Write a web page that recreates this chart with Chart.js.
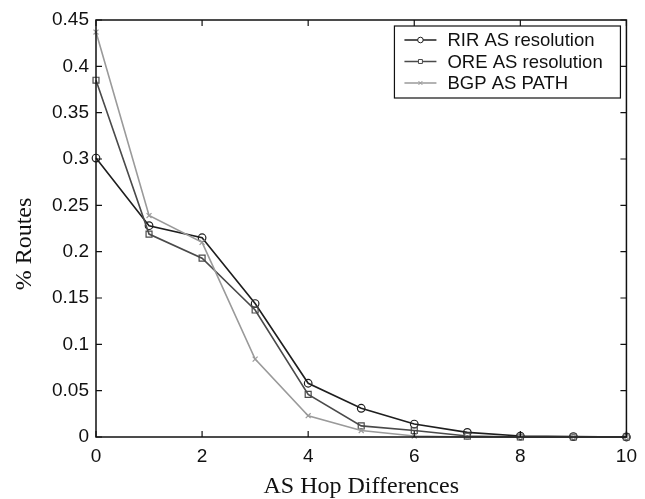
<!DOCTYPE html>
<html>
<head>
<meta charset="utf-8">
<script src="https://cdn.jsdelivr.net/npm/chart.js@4"></script>
<style>
  html, body { margin: 0; padding: 0; background: #fff; }
  #wrap { width: 645px; height: 499px; }
</style>
</head>
<body>
<div id="wrap"><canvas id="hopChart"></canvas></div>
<script>
// AS hop differences (x) and fraction of routes per method
const hops = [0, 1, 2, 3, 4, 5, 6, 7, 8, 9, 10];
const rirValues = [0.301, 0.228, 0.215, 0.144, 0.058, 0.031, 0.014, 0.005, 0.001, 0.0005, 0.0];
const oreValues = [0.385, 0.219, 0.193, 0.137, 0.046, 0.012, 0.007, 0.001, 0.0, 0.0, 0.0];
const bgpValues = [0.437, 0.239, 0.210, 0.084, 0.023, 0.007, 0.001, 0.0, 0.0, 0.0, 0.0];
const seriesNames = ["RIR AS resolution", "ORE AS resolution", "BGP AS PATH"];
const xTicks = [0, 2, 4, 6, 8, 10];
const yTicks = [0, 0.05, 0.1, 0.15, 0.2, 0.25, 0.3, 0.35, 0.4, 0.45];
const yTitle = "% Routes";

const toPoints = vals => vals.map((v, i) => ({ x: hops[i], y: v }));

const styles = [
  { color: "#1e1e1e", pointStyle: "circle", radius: 3.8 },
  { color: "#4a4a4a", pointStyle: "rect", radius: 4.2 },
  { color: "#9a9a9a", pointStyle: "crossRot", radius: 3.5 }
];

const sans = "'Liberation Sans', Arial, sans-serif";
const serif = "'Liberation Serif', 'Times New Roman', serif";

// box around the plot + inward ticks on all four sides, y title, legend
const frame = {
  id: "frame",
  afterDatasetsDraw(chart) {
    const { ctx, chartArea: a, scales } = chart;
    ctx.save();
    ctx.strokeStyle = "#111";
    ctx.lineWidth = 1.5;
    ctx.strokeRect(a.left, a.top, a.right - a.left, a.bottom - a.top);
    ctx.lineWidth = 1.2;
    ctx.beginPath();
    xTicks.forEach(t => {
      const px = scales.x.getPixelForValue(t);
      ctx.moveTo(px, a.bottom); ctx.lineTo(px, a.bottom - 6);
      ctx.moveTo(px, a.top); ctx.lineTo(px, a.top + 6);
    });
    yTicks.forEach(t => {
      const py = scales.y.getPixelForValue(t);
      ctx.moveTo(a.left, py); ctx.lineTo(a.left + 6, py);
      ctx.moveTo(a.right, py); ctx.lineTo(a.right - 6, py);
    });
    ctx.stroke();

    // y axis title
    ctx.translate(25, 244);
    ctx.rotate(-Math.PI / 2);
    ctx.font = "24px " + serif;
    ctx.fillStyle = "#111";
    ctx.textAlign = "center";
    ctx.textBaseline = "middle";
    ctx.fillText(yTitle, 0, 0);
    ctx.restore();
  },
  afterDraw(chart) {
    const { ctx, chartArea: a } = chart;
    const bx = a.right - 232, by = a.top + 6, bw = 226, bh = 72;
    ctx.save();
    ctx.fillStyle = "#fff";
    ctx.fillRect(bx, by, bw, bh);
    ctx.strokeStyle = "#111";
    ctx.lineWidth = 1.2;
    ctx.strokeRect(bx, by, bw, bh);
    ctx.font = "18.5px " + sans;
    ctx.textBaseline = "middle";
    seriesNames.forEach((name, i) => {
      const y = by + 14 + i * 21.5;
      const s = styles[i];
      ctx.strokeStyle = s.color;
      ctx.lineWidth = 1.5;
      ctx.beginPath();
      ctx.moveTo(bx + 10, y); ctx.lineTo(bx + 42, y);
      ctx.stroke();
      ctx.lineWidth = 1;
      ctx.fillStyle = "#fff";
      Chart.helpers.drawPoint(ctx, { pointStyle: s.pointStyle, radius: 2.8, rotation: 0, borderWidth: 1 }, bx + 26, y);
      ctx.fillStyle = "#111";
      ctx.fillText(name, bx + 53, y + 1);
    });
    ctx.restore();
  }
};

const datasets = [rirValues, oreValues, bgpValues].map((vals, i) => ({
  label: seriesNames[i],
  data: toPoints(vals),
  borderColor: styles[i].color,
  backgroundColor: "rgba(0,0,0,0)",
  borderWidth: 1.6,
  pointStyle: styles[i].pointStyle,
  pointRadius: styles[i].radius,
  pointBorderWidth: 1.2,
  pointBorderColor: styles[i].color,
  pointBackgroundColor: "rgba(255,255,255,0)",
  clip: false,
  tension: 0
})).reverse();

new Chart(document.getElementById("hopChart"), {
  type: "line",
  data: { datasets },
  options: {
    responsive: true,
    maintainAspectRatio: false,
    animation: false,
    layout: { padding: { top: 20, right: 18, left: 0, bottom: 0 } },
    plugins: { legend: { display: false }, tooltip: { enabled: false } },
    scales: {
      x: {
        type: "linear",
        min: 0, max: 10,
        afterFit: s => { s.height = 62; },
        afterBuildTicks: s => { s.ticks = xTicks.map(v => ({ value: v })); },
        grid: { display: false, drawTicks: false },
        border: { display: false },
        ticks: { color: "#111", padding: 8, font: { family: sans, size: 19 } },
        title: {
          display: true,
          text: "AS Hop Differences",
          color: "#111",
          padding: { top: 4, bottom: 0 },
          font: { family: serif, size: 24, lineHeight: 1.0 }
        }
      },
      y: {
        type: "linear",
        min: 0, max: 0.45,
        afterFit: s => { s.width = 96; },
        afterBuildTicks: s => { s.ticks = yTicks.map(v => ({ value: v })); },
        grid: { display: false, drawTicks: false },
        border: { display: false },
        ticks: {
          color: "#111",
          padding: 7,
          font: { family: sans, size: 19 },
          callback: v => String(Number(v.toFixed(2)))
        }
      }
    }
  },
  plugins: [frame]
});
</script>
</body>
</html>
